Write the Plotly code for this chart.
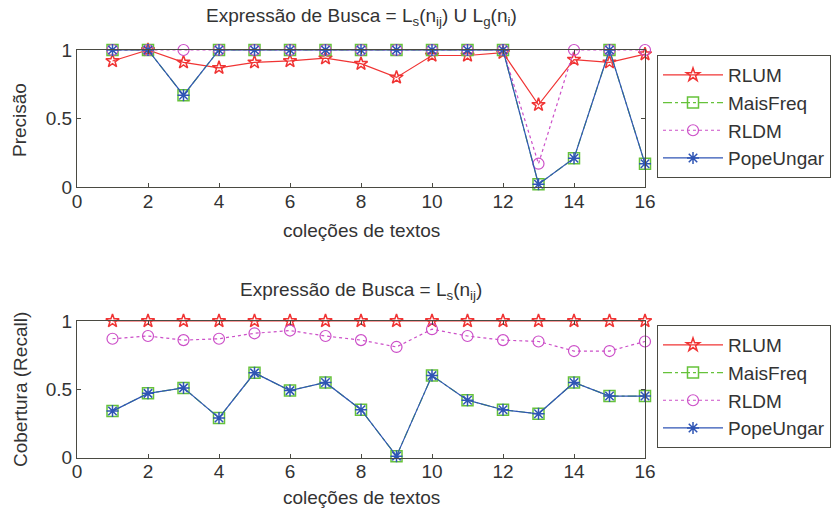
import plotly.graph_objects as go

x = list(range(1, 17))

# Top plot: Precisão
prec_rlum = [0.92, 1.0, 0.91, 0.87, 0.91, 0.92, 0.94, 0.90, 0.80, 0.96, 0.96, 0.98, 0.60, 0.93, 0.91, 0.97]
prec_maisfreq = [1, 1, 0.67, 1, 1, 1, 1, 1, 1, 1, 1, 1, 0.02, 0.21, 1, 0.17]
prec_rldm = [1, 1, 1, 1, 1, 1, 1, 1, 1, 1, 1, 1, 0.17, 1, 1, 1]
prec_pope = [1, 1, 0.67, 1, 1, 1, 1, 1, 1, 1, 1, 1, 0.02, 0.21, 1, 0.17]

# Bottom plot: Cobertura (Recall)
rec_rlum = [1] * 16
rec_maisfreq = [0.34, 0.47, 0.51, 0.29, 0.62, 0.49, 0.55, 0.35, 0.01, 0.60, 0.42, 0.35, 0.32, 0.55, 0.45, 0.45]
rec_rldm = [0.87, 0.89, 0.86, 0.87, 0.91, 0.93, 0.89, 0.86, 0.81, 0.94, 0.89, 0.86, 0.85, 0.78, 0.78, 0.85]
rec_pope = [0.34, 0.47, 0.51, 0.29, 0.62, 0.49, 0.55, 0.35, 0.01, 0.60, 0.42, 0.35, 0.32, 0.55, 0.45, 0.45]

names = ["RLUM", "MaisFreq", "RLDM", "PopeUngar"]
xticks = [0, 2, 4, 6, 8, 10, 12, 14, 16]
yticks = [0, 0.5, 1]
yticktext = ["0", "0.5", "1"]

RED = "#f03434"
GREEN = "#66c23a"
MAG = "#cc4fc8"
BLUE = "#2f55b5"
AX = "#4a4a42"
TXT = "#333333"
FONT = "Liberation Sans, Arial, sans-serif"
FS = 19

styles = [
    dict(line=dict(color=RED, width=1.2, dash="solid"),
         marker=dict(symbol="star-open", size=10, color=RED, line=dict(color=RED, width=1.5))),
    dict(line=dict(color=GREEN, width=1.2, dash="dashdot"),
         marker=dict(symbol="square-open", size=11, color=GREEN, line=dict(color=GREEN, width=1.5))),
    dict(line=dict(color=MAG, width=1.2, dash="dot"),
         marker=dict(symbol="circle-open", size=11, color=MAG, line=dict(color=MAG, width=1.2))),
    dict(line=dict(color=BLUE, width=1.2, dash="solid"),
         marker=dict(symbol="asterisk-open", size=10, color=BLUE, line=dict(color=BLUE, width=1.5))),
]

fig = go.Figure()
top_series = [prec_rlum, prec_maisfreq, prec_rldm, prec_pope]
bot_series = [rec_rlum, rec_maisfreq, rec_rldm, rec_pope]
for n, s, st in zip(names, top_series, styles):
    fig.add_trace(go.Scatter(x=x, y=s, name=n, mode="lines+markers", xaxis="x", yaxis="y",
                             legend="legend", cliponaxis=False, **st))
for n, s, st in zip(names, bot_series, styles):
    fig.add_trace(go.Scatter(x=x, y=s, name=n, mode="lines+markers", xaxis="x2", yaxis="y2",
                             legend="legend2", cliponaxis=False, **st))

W, H = 839, 509
x0, x1 = 77 / W, 645 / W
top_dom = [1 - 187 / H, 1 - 50 / H]
bot_dom = [1 - 457.5 / H, 1 - 321 / H]

axis_common = dict(showline=True, linecolor=AX, linewidth=1, mirror="ticks", ticks="inside",
                   ticklen=4, tickcolor=AX, showgrid=False, zeroline=False, automargin=False,
                   tickfont=dict(family=FONT, size=FS, color=TXT))
xaxis_extra = dict(ticklabelstandoff=-3)

legend_common = dict(font=dict(family=FONT, size=FS, color=TXT), bordercolor=AX, borderwidth=1,
                     bgcolor="white", xanchor="left", yanchor="top", itemwidth=60,
                     entrywidth=200, entrywidthmode="pixels",
                     tracegroupgap=0, traceorder="normal")

fig.update_layout(
    width=W, height=H, margin=dict(l=0, r=0, t=0, b=0, autoexpand=False),
    paper_bgcolor="white", plot_bgcolor="white",
    font=dict(family=FONT, size=FS, color=TXT),
    xaxis=dict(domain=[x0, x1], range=[0, 16], tickvals=xticks, anchor="y", **axis_common, **xaxis_extra),
    yaxis=dict(domain=top_dom, range=[0, 1], tickvals=yticks, ticktext=yticktext, anchor="x", **axis_common),
    xaxis2=dict(domain=[x0, x1], range=[0, 16], tickvals=xticks, anchor="y2", **axis_common, **xaxis_extra),
    yaxis2=dict(domain=bot_dom, range=[0, 1], tickvals=yticks, ticktext=yticktext, anchor="x2", **axis_common),
    legend=dict(x=657 / W, y=1 - 55 / H, **legend_common),
    legend2=dict(x=657 / W, y=1 - 325 / H, **legend_common),
    showlegend=True,
)

ann = dict(xref="paper", yref="paper", showarrow=False, xanchor="center", yanchor="middle",
           font=dict(family=FONT, size=FS, color=TXT))
fig.add_annotation(x=361 / W, y=1 - 17 / H,
                   text="Expressão de Busca = L<sub>s</sub>(n<sub>ij</sub>) U L<sub>g</sub>(n<sub>i</sub>)", **ann)
fig.add_annotation(x=361 / W, y=1 - 291 / H,
                   text="Expressão de Busca = L<sub>s</sub>(n<sub>ij</sub>)", **ann)
fig.add_annotation(x=361 / W, y=1 - 230 / H, text="coleções de textos", **ann)
fig.add_annotation(x=361 / W, y=1 - 497 / H, text="coleções de textos", **ann)
fig.add_annotation(x=19 / W, y=1 - 120 / H, text="Precisão", textangle=-90, **ann)
fig.add_annotation(x=20 / W, y=1 - 390 / H, text="Cobertura (Recall)", textangle=-90, **ann)

fig.write_html("out.html", config={"displayModeBar": False},
               post_script="document.body.style.margin='0';document.body.style.padding='0';")
